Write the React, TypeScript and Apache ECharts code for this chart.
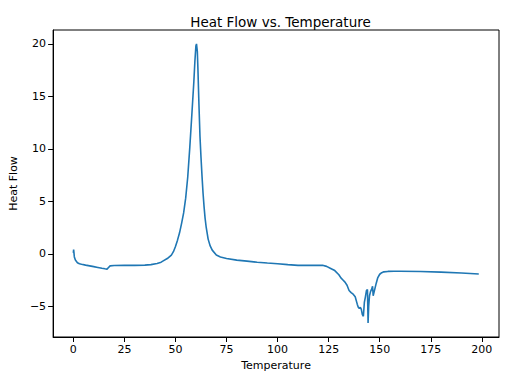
import React, { useEffect, useRef } from "react";
import * as echarts from "echarts";

const temperature = [
  0, 0.15, 0.5, 1, 2, 3, 4, 6, 8, 10, 12, 14, 15.5, 16.5, 17, 18, 20, 25, 30, 35, 38, 41, 43,
  44, 46, 48, 49, 50, 51, 52, 53, 54, 55, 56, 57, 58, 59, 59.5, 60, 60.3, 60.7, 61, 61.5, 62, 62.5, 63,
  63.5, 64, 64.5, 65, 66, 67, 68, 70, 72, 75, 80, 85, 90, 95, 100, 105, 110, 115, 120, 122, 124, 126, 128,
  130, 131, 132, 133, 134, 135, 136, 137, 138, 139, 139.5, 140, 140.5, 141, 141.5, 142, 142.5, 143,
  143.5, 144, 144.3, 144.6, 145, 145.5, 146, 146.5, 146.8, 147.3, 147.8, 148.3, 149, 150, 151, 152,
  154, 157, 160, 170, 180, 190, 198.5,
];
const heatFlow = [
  0.1, 0.4, -0.3, -0.6, -0.85, -0.95, -1.0, -1.08, -1.15, -1.22, -1.3, -1.38, -1.43, -1.46,
  -1.35, -1.15, -1.12, -1.1, -1.1, -1.08, -1.03, -0.92, -0.8,
  -0.68, -0.45, -0.12, 0.2, 0.7, 1.3, 2.0, 2.9, 3.9, 5.3, 7.3, 10.1, 13.2, 16.4, 18.3, 19.8, 20.0, 19.3,
  17.6, 14.2, 11.2, 9.2, 7.4, 5.8, 4.5, 3.4, 2.6, 1.4, 0.75, 0.35, -0.12, -0.3, -0.45, -0.6, -0.7,
  -0.8, -0.88, -0.95, -1.03, -1.1, -1.1, -1.1, -1.1, -1.2, -1.4, -1.6, -2.0, -2.3, -2.5, -2.7, -3.0,
  -3.5, -3.7, -3.85, -4.1, -4.8, -5.1, -5.2, -5.1, -5.3, -5.8, -5.95, -4.6, -4.1, -3.5, -3.4, -6.6,
  -5.0, -4.0, -3.6, -3.4, -3.1, -4.0, -3.6, -3.2, -2.8, -2.3, -1.95, -1.8, -1.72, -1.68, -1.66,
  -1.66, -1.69, -1.75, -1.83, -1.92,
];
const xTicks = [0, 25, 50, 75, 100, 125, 150, 175, 200];
const yTicks = [-5, 0, 5, 10, 15, 20];

const FONT = "DejaVu Sans";
const fmt = (v: number) => (v < 0 ? "\u2212" + Math.abs(v) : String(v));

export default function App() {
  const ref = useRef<HTMLDivElement>(null);
  useEffect(() => {
    document.body.style.margin = "0";
    const chart = echarts.init(ref.current!, null, { renderer: "svg" });
    const data = temperature.map((t, i) => [t, heatFlow[i]]);
    chart.setOption({
      animation: false,
      backgroundColor: "#ffffff",
      title: {
        text: "Heat Flow vs. Temperature",
        left: 275.5,
        top: 10,
        textAlign: "center",
        textStyle: { fontFamily: FONT, fontSize: 13.5, fontWeight: "normal", color: "#000" },
      },
      grid: {
        left: 52,
        right: 13,
        top: 30,
        bottom: 47,
        show: true,
        borderColor: "#000",
        borderWidth: 1,
        backgroundColor: "transparent",
      },
      xAxis: {
        type: "value",
        min: -9.9,
        max: 208.4,
        name: "Temperature",
        nameLocation: "middle",
        nameGap: 21,
        nameTextStyle: { fontFamily: FONT, fontSize: 11, color: "#000" },
        axisLine: { show: true, onZero: false, lineStyle: { color: "#000", width: 1 } },
        axisTick: { show: true, inside: false, length: 5, customValues: xTicks, lineStyle: { color: "#000" } },
        axisLabel: {
          customValues: xTicks,
          formatter: fmt,
          fontFamily: FONT,
          fontSize: 11,
          color: "#000",
          margin: 7,
        },
        splitLine: { show: false },
      },
      yAxis: {
        type: "value",
        min: -7.93,
        max: 21.33,
        name: "Heat Flow",
        nameLocation: "middle",
        nameGap: 24,
        nameTextStyle: { fontFamily: FONT, fontSize: 11, color: "#000" },
        axisLine: { show: true, onZero: false, lineStyle: { color: "#000", width: 1 } },
        axisTick: { show: true, inside: false, length: 5, customValues: yTicks, lineStyle: { color: "#000" } },
        axisLabel: {
          customValues: yTicks,
          formatter: fmt,
          fontFamily: FONT,
          fontSize: 11,
          color: "#000",
          margin: 7,
        },
        splitLine: { show: false },
      },
      series: [
        {
          type: "line",
          data,
          showSymbol: false,
          symbol: "none",
          lineStyle: { color: "#1f77b4", width: 1.6 },
          itemStyle: { color: "#1f77b4" },
        },
      ],
    });
    return () => chart.dispose();
  }, []);
  return <div ref={ref} style={{ width: 512, height: 384 }} />;
}
